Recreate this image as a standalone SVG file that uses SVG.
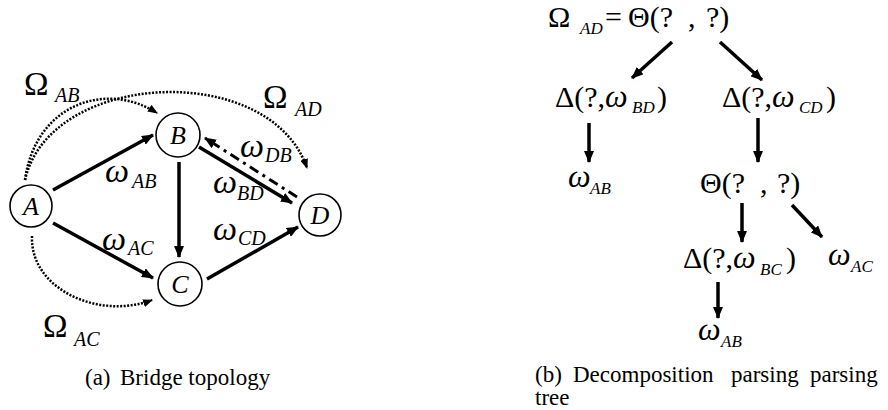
<svg xmlns="http://www.w3.org/2000/svg" width="888" height="410" viewBox="0 0 888 410">
<defs>
<marker id="ah" viewBox="0 0 12 10" refX="11" refY="5" markerWidth="12" markerHeight="10" markerUnits="userSpaceOnUse" orient="auto"><path d="M0,0 L12,5 L0,10 Z" fill="#000"/></marker>
<marker id="ahs" viewBox="0 0 10 8" refX="9" refY="4" markerWidth="10" markerHeight="8" markerUnits="userSpaceOnUse" orient="auto"><path d="M0,0 L10,4 L0,8 Z" fill="#000"/></marker>
</defs>
<g id="connectors" fill="none" stroke="#000">
<g stroke-width="3.5">
<path d="M53,190 L153,135" marker-end="url(#ah)"/>
<path d="M53,223 L153,278" marker-end="url(#ah)"/>
<path d="M179,162 L179,257" marker-end="url(#ah)"/>
<path d="M207,279 L298,227" marker-end="url(#ah)"/>
<path d="M199,147 L292,203" marker-end="url(#ah)"/>
<path d="M672,42 L632,78" marker-end="url(#ah)"/>
<path d="M720,42 L762,80" marker-end="url(#ah)"/>
<path d="M589,123 L589,162" marker-end="url(#ah)"/>
<path d="M758,118 L758,162" marker-end="url(#ah)"/>
<path d="M742,203 L742,242" marker-end="url(#ah)"/>
<path d="M792,205 L822,237" marker-end="url(#ah)"/>
<path d="M718,282 L718,318" marker-end="url(#ah)"/>
</g>
<path d="M297,197 L205,138" stroke-width="3" stroke-dasharray="10 5 3 5" marker-end="url(#ah)"/>
<g stroke-width="2.5" stroke-dasharray="2 1.5">
<path d="M25,180 C35,105 105,80 157,113" marker-end="url(#ahs)"/>
<path d="M25,180 C50,70 270,60 307,168" marker-end="url(#ahs)"/>
<path d="M32,236 C30,290 100,320 152,300" marker-end="url(#ahs)"/>
</g>
</g>
<g id="nodeA"><circle cx="31" cy="206" r="21" fill="#fff" stroke="#000" stroke-width="1.6"/><text font-family="Liberation Serif, Tinos, serif" font-size="26" font-style="italic" text-anchor="middle" x="31" y="215">A</text></g>
<g id="nodeB"><circle cx="178" cy="135" r="22" fill="#fff" stroke="#000" stroke-width="1.6"/><text font-family="Liberation Serif, Tinos, serif" font-size="26" font-style="italic" text-anchor="middle" x="178" y="144">B</text></g>
<g id="nodeC"><circle cx="180" cy="284" r="22" fill="#fff" stroke="#000" stroke-width="1.6"/><text font-family="Liberation Serif, Tinos, serif" font-size="26" font-style="italic" text-anchor="middle" x="180" y="293">C</text></g>
<g id="nodeD"><circle cx="320" cy="215" r="21" fill="#fff" stroke="#000" stroke-width="1.6"/><text font-family="Liberation Serif, Tinos, serif" font-size="26" font-style="italic" text-anchor="middle" x="320" y="224">D</text></g>
<g id="edge-labels">
<text font-family="Liberation Serif, Tinos, serif" font-size="33" x="24" y="95">Ω</text><text font-family="Liberation Serif, Tinos, serif" font-size="20" font-style="italic" x="55" y="102">AB</text>
<text font-family="Liberation Serif, Tinos, serif" font-size="33" x="263" y="108">Ω</text><text font-family="Liberation Serif, Tinos, serif" font-size="20" font-style="italic" x="295" y="116">AD</text>
<text font-family="Liberation Serif, Tinos, serif" font-size="33" x="43" y="337">Ω</text><text font-family="Liberation Serif, Tinos, serif" font-size="20" font-style="italic" x="74" y="346">AC</text>
<text font-family="Liberation Serif, Tinos, serif" font-size="34" font-style="italic" x="105" y="182">ω</text><text font-family="Liberation Serif, Tinos, serif" font-size="20" font-style="italic" x="132" y="188">AB</text>
<text font-family="Liberation Serif, Tinos, serif" font-size="34" font-style="italic" x="213" y="193">ω</text><text font-family="Liberation Serif, Tinos, serif" font-size="20" font-style="italic" x="237" y="200">BD</text>
<text font-family="Liberation Serif, Tinos, serif" font-size="34" font-style="italic" x="240" y="157">ω</text><text font-family="Liberation Serif, Tinos, serif" font-size="20" font-style="italic" x="265" y="162">DB</text>
<text font-family="Liberation Serif, Tinos, serif" font-size="34" font-style="italic" x="213" y="240">ω</text><text font-family="Liberation Serif, Tinos, serif" font-size="20" font-style="italic" x="238" y="245">CD</text>
<text font-family="Liberation Serif, Tinos, serif" font-size="34" font-style="italic" x="102" y="250">ω</text><text font-family="Liberation Serif, Tinos, serif" font-size="20" font-style="italic" x="128" y="255">AC</text>
</g>
<g id="tree-root">
<text font-family="Liberation Serif, Tinos, serif" font-size="30" x="548" y="27">Ω</text><text font-family="Liberation Serif, Tinos, serif" font-size="17" font-style="italic" x="580" y="34">AD</text>
<text font-family="Liberation Serif, Tinos, serif" font-size="30" x="605" y="27">=</text><text font-family="Liberation Serif, Tinos, serif" font-size="30" x="628" y="27">Θ(?</text><text font-family="Liberation Serif, Tinos, serif" font-size="30" x="688" y="27">,</text><text font-family="Liberation Serif, Tinos, serif" font-size="30" x="706" y="27">?)</text>
</g>
<g id="tree-delta-bd">
<text font-family="Liberation Serif, Tinos, serif" font-size="30" x="555" y="107">Δ(?,</text><text font-family="Liberation Serif, Tinos, serif" font-size="32" font-style="italic" x="605" y="107">ω</text><text font-family="Liberation Serif, Tinos, serif" font-size="17" font-style="italic" x="632" y="113">BD</text><text font-family="Liberation Serif, Tinos, serif" font-size="30" x="657" y="107">)</text>
</g>
<g id="tree-delta-cd">
<text font-family="Liberation Serif, Tinos, serif" font-size="30" x="722" y="107">Δ(?,</text><text font-family="Liberation Serif, Tinos, serif" font-size="32" font-style="italic" x="772" y="107">ω</text><text font-family="Liberation Serif, Tinos, serif" font-size="17" font-style="italic" x="799" y="113">CD</text><text font-family="Liberation Serif, Tinos, serif" font-size="30" x="826" y="107">)</text>
</g>
<g id="tree-omega-ab1"><text font-family="Liberation Serif, Tinos, serif" font-size="32" font-style="italic" x="568" y="187">ω</text><text font-family="Liberation Serif, Tinos, serif" font-size="17" font-style="italic" x="590" y="194">AB</text></g>
<g id="tree-theta2">
<text font-family="Liberation Serif, Tinos, serif" font-size="30" x="700" y="193">Θ(?</text><text font-family="Liberation Serif, Tinos, serif" font-size="30" x="760" y="193">,</text><text font-family="Liberation Serif, Tinos, serif" font-size="30" x="777" y="193">?)</text>
</g>
<g id="tree-delta-bc">
<text font-family="Liberation Serif, Tinos, serif" font-size="30" x="683" y="268">Δ(?,</text><text font-family="Liberation Serif, Tinos, serif" font-size="32" font-style="italic" x="733" y="268">ω</text><text font-family="Liberation Serif, Tinos, serif" font-size="17" font-style="italic" x="760" y="275">BC</text><text font-family="Liberation Serif, Tinos, serif" font-size="30" x="786" y="268">)</text>
</g>
<g id="tree-omega-ac"><text font-family="Liberation Serif, Tinos, serif" font-size="32" font-style="italic" x="828" y="265">ω</text><text font-family="Liberation Serif, Tinos, serif" font-size="17" font-style="italic" x="851" y="272">AC</text></g>
<g id="tree-omega-ab2"><text font-family="Liberation Serif, Tinos, serif" font-size="32" font-style="italic" x="698" y="340">ω</text><text font-family="Liberation Serif, Tinos, serif" font-size="17" font-style="italic" x="721" y="347">AB</text></g>
<g id="captions">
<text font-family="Liberation Serif, Tinos, serif" font-size="23" x="85" y="385">(a)</text><text font-family="Liberation Serif, Tinos, serif" font-size="23" x="120" y="385">Bridge topology</text>
<text font-family="Liberation Serif, Tinos, serif" font-size="23" x="535" y="382">(b)</text><text font-family="Liberation Serif, Tinos, serif" font-size="23" x="573" y="382">Decomposition</text><text font-family="Liberation Serif, Tinos, serif" font-size="23" x="731" y="382">parsing</text><text font-family="Liberation Serif, Tinos, serif" font-size="23" x="810" y="382">parsing</text>
<text font-family="Liberation Serif, Tinos, serif" font-size="23" x="535" y="405">tree</text>
</g>
</svg>
